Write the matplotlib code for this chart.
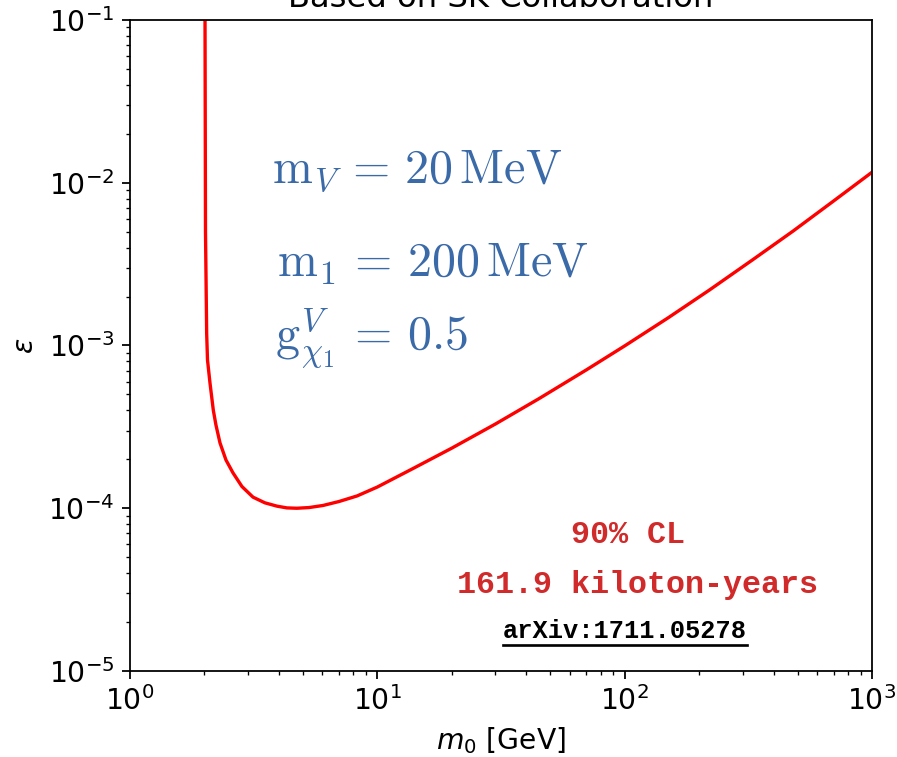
import numpy as np
import matplotlib
matplotlib.use("Agg")
import matplotlib.pyplot as plt
from matplotlib.lines import Line2D

plt.rcParams["font.size"] = 12.7

# exclusion curve (m0 in GeV, epsilon)
m0 = [2.011, 2.02, 2.042, 2.058, 2.106, 2.172, 2.226, 2.312, 2.444, 2.609,
      2.836, 3.144, 3.51, 3.93, 4.31, 4.73, 5.3, 6.03, 7.0, 8.28, 10.0,
      14.0, 20.0, 30.0, 45.0, 70.0, 100.0, 150.0, 220.0, 330.0, 480.0,
      700.0, 1000.0]
eps = [1.0e-1, 5.0e-3, 1.19e-3, 8.15e-4, 5.89e-4, 4.01e-4, 3.25e-4, 2.52e-4,
       1.98e-4, 1.65e-4, 1.36e-4, 1.17e-4, 1.08e-4, 1.03e-4, 1.005e-4, 1.0e-4,
       1.01e-4, 1.04e-4, 1.1e-4, 1.19e-4, 1.35e-4, 1.76e-4, 2.34e-4,
       3.29e-4, 4.71e-4, 7.08e-4, 9.94e-4, 1.48e-3, 2.19e-3, 3.37e-3,
       5.05e-3, 7.73e-3, 1.16e-2]

params = [r"$\mathrm{m}_V\,=\,20\,\mathrm{MeV}$",
          r"$\mathrm{m}_1\,=\,200\,\mathrm{MeV}$",
          r"$\mathrm{g}_{\chi_1}^{V}\,=\,0.5$"]
notes = ["90% CL", "161.9 kiloton-years"]
ref = "arXiv:1711.05278"

fig = plt.figure(figsize=(897 / 160, 757 / 160), dpi=160)
ax = fig.add_axes([0.1449, 0.1136, 0.8272, 0.86])

ax.plot(m0, eps, color="red", lw=1.5, solid_joinstyle="round")
ax.set_xscale("log")
ax.set_yscale("log")
ax.set_xlim(1, 1000)
ax.set_ylim(1e-5, 1e-1)
ax.set_xlabel(r"$m_0$ [GeV]")
ax.set_ylabel(r"$\epsilon$")
ax.set_title("Based on SK Collaboration", fontsize=14.5)

blue = "#3b6aa8"
pos = [(0.191, 0.750), (0.198, 0.605), (0.195, 0.493)]
for s, (x, y) in zip(params, pos):
    ax.text(x, y, s, transform=ax.transAxes, fontsize=21.6, color=blue,
            va="baseline", ha="left", math_fontfamily="cm")

red = "#d02a2a"
ax.text(0.671, 0.196, notes[0], transform=ax.transAxes, fontsize=14.3,
        color=red, fontweight="bold", family="Liberation Mono",
        ha="center", va="baseline")
ax.text(0.684, 0.120, notes[1], transform=ax.transAxes, fontsize=14.3,
        color=red, fontweight="bold", family="Liberation Mono",
        ha="center", va="baseline")
t = ax.text(0.667, 0.050, ref, transform=ax.transAxes, fontsize=11.4,
            color="black", fontweight="bold", family="Liberation Mono",
            ha="center", va="baseline")

# underline the reference
fig.canvas.draw()
bb = t.get_window_extent()
W, H = fig.bbox.width, fig.bbox.height
fig.add_artist(Line2D([bb.x0 / W, bb.x1 / W], [(bb.y0 - 1.5) / H] * 2,
                      color="black", lw=1.2, transform=fig.transFigure))

fig.savefig("out.png", dpi=160)
